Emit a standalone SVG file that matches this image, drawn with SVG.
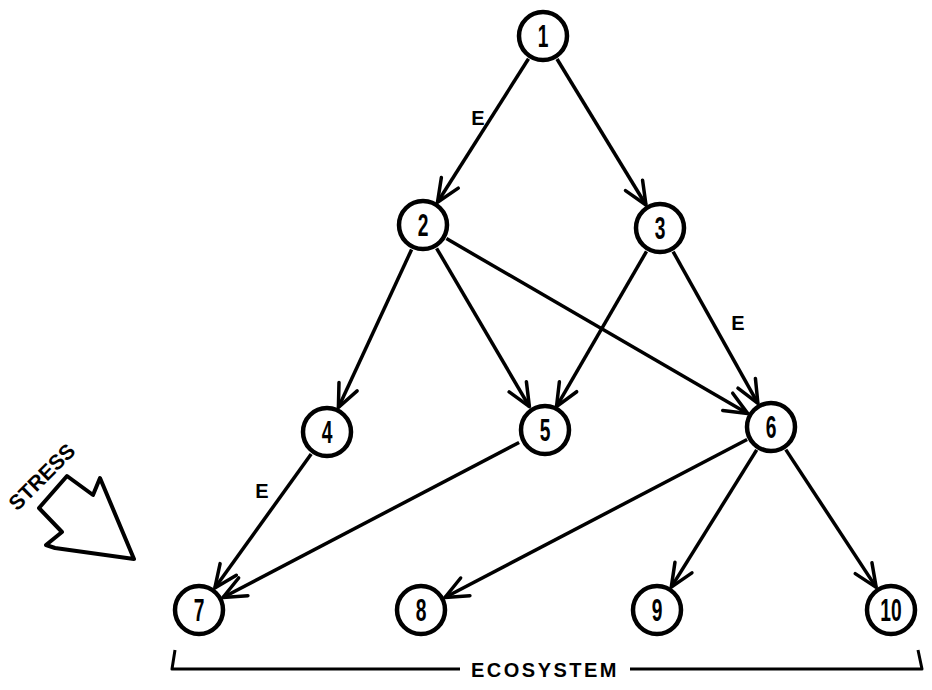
<svg xmlns="http://www.w3.org/2000/svg" width="932" height="690" viewBox="0 0 932 690">
<style>
.node circle{fill:#fff;stroke:#000;stroke-width:4.5}
.node text{font-family:"Liberation Sans",Arial,sans-serif;font-weight:bold;font-size:31px;text-anchor:middle}
.edge{stroke:#000;stroke-width:3.5;fill:none;marker-end:url(#v)}
.lbl{font-family:"Liberation Sans",Arial,sans-serif;font-weight:bold;font-size:20px;text-anchor:middle}
</style>
<defs>
<marker id="v" markerUnits="userSpaceOnUse" markerWidth="30" markerHeight="30" viewBox="-26 -14 30 28" refX="0" refY="0" orient="auto">
<path d="M-23,-10 L0,0 L-23,10" fill="none" stroke="#000" stroke-width="3.5" stroke-linecap="round" stroke-linejoin="round"/>
</marker>
</defs>
<rect width="932" height="690" fill="#fff"/>
<g id="connectors">
<line class="edge" x1="528.5" y1="58.8" x2="437.5" y2="202.2"/>
<line class="edge" x1="557" y1="59" x2="646" y2="205"/>
<line class="edge" x1="411.6" y1="249.5" x2="338.4" y2="407.5"/>
<line class="edge" x1="436.6" y1="248.3" x2="529.4" y2="406.7"/>
<line class="edge" x1="446.4" y1="238.6" x2="747.6" y2="413.4"/>
<line class="edge" x1="646.5" y1="251.4" x2="556.5" y2="406.6"/>
<line class="edge" x1="673.1" y1="251.6" x2="757.9" y2="403.4"/>
<line class="edge" x1="311.2" y1="453.9" x2="214.8" y2="588.1"/>
<line class="edge" x1="519.1" y1="442.5" x2="222.9" y2="597.5"/>
<line class="edge" x1="747.1" y1="439.5" x2="444.9" y2="597.5"/>
<line class="edge" x1="756.7" y1="449.9" x2="671.3" y2="587.1"/>
<line class="edge" x1="785.8" y1="449.6" x2="876.2" y2="587.4"/>
<text class="lbl" x="478" y="125">E</text>
<text class="lbl" x="738" y="330">E</text>
<text class="lbl" x="262" y="498">E</text>
</g>
<g id="n1" class="node" transform="translate(543,36)"><circle r="24"/><text transform="scale(0.62,1)" y="11">1</text></g>
<g id="n2" class="node" transform="translate(423,225)"><circle r="24"/><text transform="scale(0.62,1)" y="11">2</text></g>
<g id="n3" class="node" transform="translate(660,228)"><circle r="24"/><text transform="scale(0.62,1)" y="11">3</text></g>
<g id="n4" class="node" transform="translate(327,432)"><circle r="24"/><text transform="scale(0.62,1)" y="11">4</text></g>
<g id="n5" class="node" transform="translate(545,430)"><circle r="24"/><text transform="scale(0.62,1)" y="11">5</text></g>
<g id="n6" class="node" transform="translate(771,427)"><circle r="24"/><text transform="scale(0.62,1)" y="11">6</text></g>
<g id="n7" class="node" transform="translate(199,610)"><circle r="24"/><text transform="scale(0.62,1)" y="11">7</text></g>
<g id="n8" class="node" transform="translate(421,610)"><circle r="24"/><text transform="scale(0.62,1)" y="11">8</text></g>
<g id="n9" class="node" transform="translate(657,610)"><circle r="24"/><text transform="scale(0.62,1)" y="11">9</text></g>
<g id="n10" class="node" transform="translate(891,610)"><circle r="24"/><text transform="scale(0.62,1)" y="11">10</text></g>
<g id="stress">
<path d="M67,476 L93,495 L100,478 L134,559 L55,548 L46,545 L62,532 L39,508 Z" fill="#fff" stroke="#000" stroke-width="4" stroke-linejoin="round"/>
<text transform="translate(42,477) rotate(-45)" y="7" font-family="'Liberation Sans',Arial,sans-serif" font-weight="bold" font-size="21" text-anchor="middle">STRESS</text>
</g>
<g id="ecosystem">
<path d="M175,650 L172,669 L460,669 M630,669 L922,669 L918,650" fill="none" stroke="#000" stroke-width="3" stroke-linejoin="round"/>
<text x="545" y="677" font-family="'Liberation Sans',Arial,sans-serif" font-weight="bold" font-size="20" text-anchor="middle" letter-spacing="2.5">ECOSYSTEM</text>
</g>
</svg>
